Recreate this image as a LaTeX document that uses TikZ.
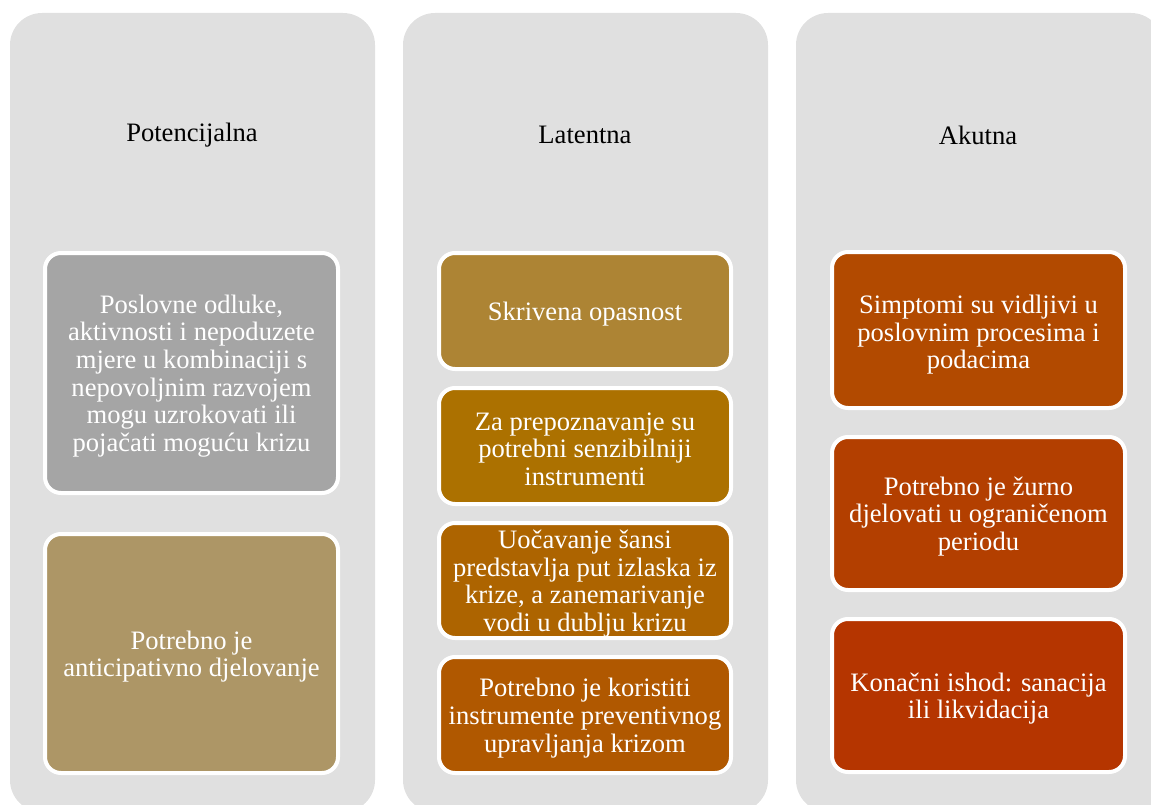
\documentclass[tikz,border=0pt]{standalone}
\usepackage{fontspec}
\setmainfont{Liberation Serif}
\definecolor{panelgray}{HTML}{E0E0E0}
\definecolor{cA}{HTML}{A5A5A5}
\definecolor{cB}{HTML}{AD9666}
\definecolor{cC}{HTML}{AD8434}
\definecolor{cD}{HTML}{AC7100}
\definecolor{cE}{HTML}{AD6400}
\definecolor{cF}{HTML}{B05800}
\definecolor{cG}{HTML}{B24A00}
\definecolor{cH}{HTML}{B33F00}
\definecolor{cI}{HTML}{B53500}
\tikzset{
  panel/.style={fill=panelgray, draw=none, rounded corners=32pt},
  head/.style={text=black, font=\fontsize{26.6}{27.6}\selectfont, align=center},
  itembox/.style={rectangle, draw=white, line width=4pt, rounded corners=16pt, inner sep=0pt},
  itemtext/.style={text=white, font=\fontsize{26.6}{27.6}\selectfont, align=center, inner sep=0pt, yshift=-3pt},
}
\begin{document}
\begin{tikzpicture}[x=1pt,y=-1pt]
\useasboundingbox (0,0) rectangle (1151,805);
\clip (0,0) rectangle (1151,805);
% panels
\fill[panel] (10,13) rectangle (375,812);
\fill[panel] (403,13) rectangle (768,812);
\fill[panel] (796,13) rectangle (1163,812);
% headers
\node[head] (h1) at (192,135) {Potencijalna};
\node[head] (h2) at (585,135) {Latentna};
\node[head] (h3) at (978,135) {Akutna};
% left column
\node[itembox, fill=cA, minimum width=293pt, minimum height=240pt,
  label={[itemtext]center:{Poslovne odluke,\\aktivnosti i nepoduzete\\mjere u kombinaciji s\\nepovoljnim razvojem\\mogu uzrokovati ili\\pojačati moguću krizu}}] (l1) at (191.5,373) {};
\node[itembox, fill=cB, minimum width=293pt, minimum height=239pt,
  label={[itemtext]center:{Potrebno je\\anticipativno djelovanje}}] (l2) at (191.5,653.5) {};
% middle column
\node[itembox, fill=cC, minimum width=292pt, minimum height=116pt,
  label={[itemtext]center:{Skrivena opasnost}}] (m1) at (585,311) {};
\node[itembox, fill=cD, minimum width=292pt, minimum height=116pt,
  label={[itemtext]center:{Za prepoznavanje su\\potrebni senzibilniji\\instrumenti}}] (m2) at (585,446) {};
\node[itembox, fill=cE, minimum width=292pt, minimum height=115pt,
  label={[itemtext]center:{Uočavanje šansi\\predstavlja put izlaska iz\\krize, a zanemarivanje\\vodi u dublju krizu}}] (m3) at (585,580.5) {};
\node[itembox, fill=cF, minimum width=292pt, minimum height=116pt,
  label={[itemtext]center:{Potrebno je koristiti\\instrumente preventivnog\\upravljanja krizom}}] (m4) at (585,715) {};
% right column
\node[itembox, fill=cG, minimum width=293pt, minimum height=156pt,
  label={[itemtext, yshift=-2pt]center:{Simptomi su vidljivi u\\poslovnim procesima i\\podacima}}] (r1) at (978.5,330) {};
\node[itembox, fill=cH, minimum width=293pt, minimum height=153pt,
  label={[itemtext]center:{Potrebno je žurno\\djelovati u ograničenom\\periodu}}] (r2) at (978.5,513.5) {};
\node[itembox, fill=cI, minimum width=293pt, minimum height=153pt,
  label={[itemtext]center:{Konačni ishod: sanacija\\ili likvidacija}}] (r3) at (978.5,695.5) {};
\end{tikzpicture}
\end{document}
